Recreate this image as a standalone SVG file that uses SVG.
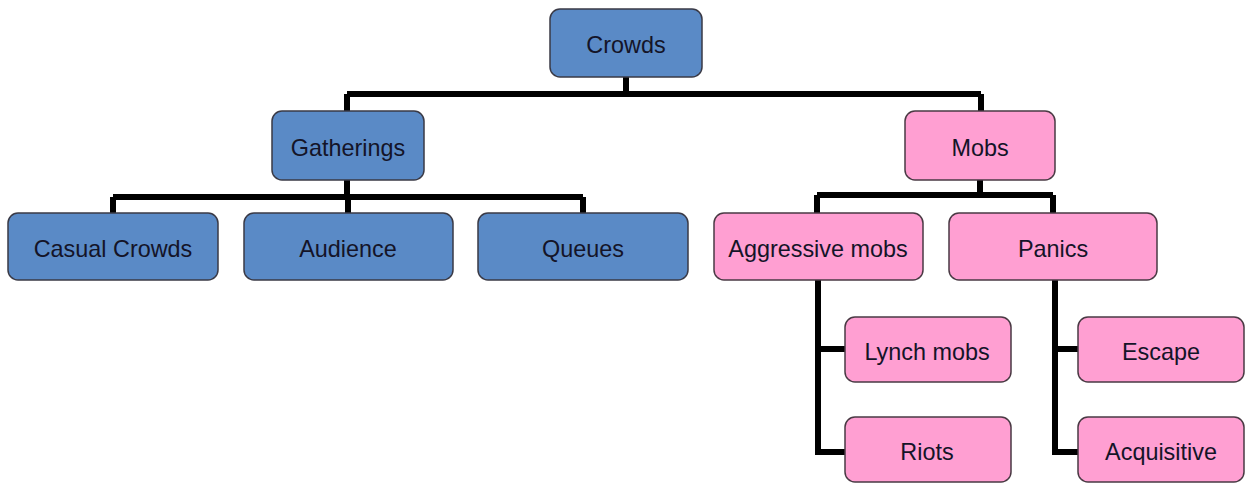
<svg xmlns="http://www.w3.org/2000/svg" width="1246" height="483" viewBox="0 0 1246 483">
<style>
.blue{fill:#5a8ac6;stroke:#3a3a46;stroke-width:1.5}
.pink{fill:#ff9fd2;stroke:#4a3a44;stroke-width:1.5}
text{font-family:"Liberation Sans",Arial,sans-serif;font-size:23.4px;fill:#141428;text-anchor:middle}
.c{fill:none;stroke:#000;stroke-width:6;stroke-linejoin:miter;stroke-linecap:butt}
</style>
<rect width="1246" height="483" fill="#fff"/>
<g id="connectors">
<path class="c" d="M626 77V94M347 94H981M347 94V111M981 94V111"/>
<path class="c" d="M347 180V197M113 197H583M113 197V213M348 197V213M583 197V213"/>
<path class="c" d="M980 180V195M817 195H1053M817 195V213M1053 195V213"/>
<path class="c" d="M818 280V452H845M818 349H845"/>
<path class="c" d="M1055 280V452H1078M1055 349H1078"/>
</g>
<g id="crowds"><rect class="blue" x="550" y="9" width="152" height="68" rx="10"/><text x="626" y="53">Crowds</text></g>
<g id="gatherings"><rect class="blue" x="272" y="111" width="152" height="69" rx="10"/><text x="348" y="156">Gatherings</text></g>
<g id="casual"><rect class="blue" x="8" y="213" width="210" height="67" rx="10"/><text x="113" y="257">Casual Crowds</text></g>
<g id="audience"><rect class="blue" x="244" y="213" width="209" height="67" rx="10"/><text x="348" y="257">Audience</text></g>
<g id="queues"><rect class="blue" x="478" y="213" width="210" height="67" rx="10"/><text x="583" y="257">Queues</text></g>
<g id="mobs"><rect class="pink" x="905" y="111" width="150" height="69" rx="10"/><text x="980" y="156">Mobs</text></g>
<g id="aggressive"><rect class="pink" x="714" y="213" width="209" height="67" rx="10"/><text x="818" y="257">Aggressive mobs</text></g>
<g id="panics"><rect class="pink" x="949" y="213" width="208" height="67" rx="10"/><text x="1053" y="257">Panics</text></g>
<g id="lynch"><rect class="pink" x="845" y="317" width="166" height="65" rx="10"/><text x="927" y="360">Lynch mobs</text></g>
<g id="riots"><rect class="pink" x="845" y="417" width="166" height="65" rx="10"/><text x="927" y="460">Riots</text></g>
<g id="escape"><rect class="pink" x="1078" y="317" width="166" height="65" rx="10"/><text x="1161" y="360">Escape</text></g>
<g id="acquisitive"><rect class="pink" x="1078" y="417" width="166" height="65" rx="10"/><text x="1161" y="460">Acquisitive</text></g>
</svg>
